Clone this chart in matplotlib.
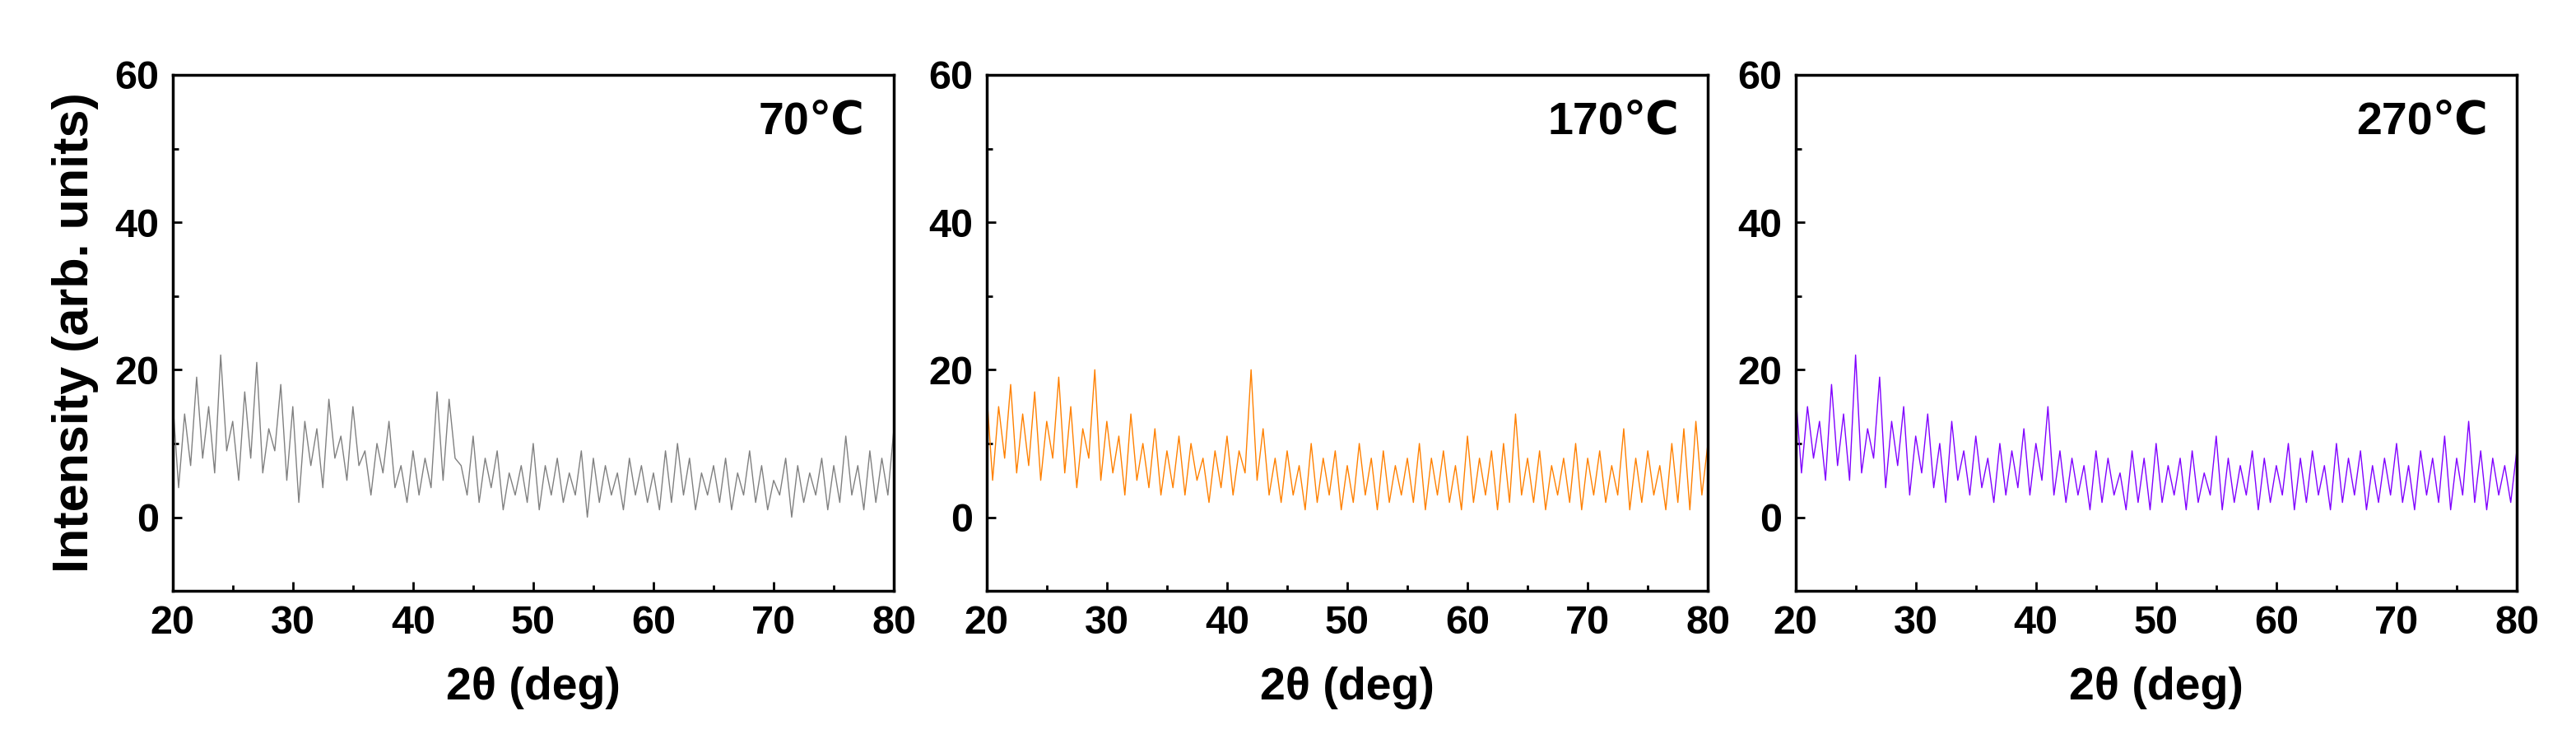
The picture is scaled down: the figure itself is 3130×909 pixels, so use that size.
import matplotlib.pyplot as plt

plt.rcParams['font.family'] = ['Liberation Sans', 'DejaVu Sans']
plt.rcParams['font.weight'] = 'bold'

# 2theta grid, 0.5 deg steps from 20 to 80
two_theta = [20 + 0.5 * i for i in range(121)]

# intensities (arb. units)
i_70 = [16, 4, 14, 7, 19, 8, 15, 6, 22, 9, 13, 5, 17, 8, 21, 6, 12, 9, 18, 5,
        15, 2, 13, 7, 12, 4, 16, 8, 11, 5, 15, 7, 9, 3, 10, 6, 13, 4, 7, 2,
        9, 3, 8, 4, 17, 5, 16, 8, 7, 3, 11, 2, 8, 4, 9, 1, 6, 3, 7, 2,
        10, 1, 7, 3, 8, 2, 6, 3, 9, 0, 8, 2, 7, 3, 6, 1, 8, 3, 7, 2,
        6, 1, 9, 2, 10, 3, 8, 1, 6, 3, 7, 2, 8, 1, 6, 3, 9, 2, 7, 1,
        5, 3, 8, 0, 7, 2, 6, 3, 8, 1, 7, 2, 11, 3, 7, 1, 9, 2, 8, 3, 12]
i_170 = [17, 5, 15, 8, 18, 6, 14, 7, 17, 5, 13, 8, 19, 6, 15, 4, 12, 8, 20, 5,
         13, 6, 11, 3, 14, 5, 10, 4, 12, 3, 9, 4, 11, 3, 10, 5, 8, 2, 9, 4,
         11, 3, 9, 6, 20, 5, 12, 3, 8, 2, 9, 3, 7, 1, 10, 2, 8, 3, 9, 1,
         7, 2, 10, 3, 8, 1, 9, 2, 7, 3, 8, 2, 10, 1, 8, 3, 9, 2, 7, 1,
         11, 2, 8, 3, 9, 1, 10, 2, 14, 3, 8, 2, 9, 1, 7, 3, 8, 2, 10, 1,
         8, 3, 9, 2, 7, 3, 12, 1, 8, 2, 9, 3, 7, 1, 10, 2, 12, 1, 13, 3, 10]
i_270 = [17, 6, 15, 8, 13, 5, 18, 7, 14, 5, 22, 6, 12, 8, 19, 4, 13, 7, 15, 3,
         11, 6, 14, 4, 10, 2, 13, 5, 9, 3, 11, 4, 8, 2, 10, 3, 9, 4, 12, 3,
         10, 5, 15, 3, 9, 2, 8, 3, 7, 1, 9, 2, 8, 3, 6, 1, 9, 2, 8, 1,
         10, 2, 7, 3, 8, 1, 9, 2, 6, 3, 11, 1, 8, 2, 7, 3, 9, 1, 8, 2,
         7, 3, 10, 1, 8, 2, 9, 3, 7, 1, 10, 2, 8, 3, 9, 1, 7, 2, 8, 3,
         10, 2, 7, 1, 9, 3, 8, 2, 11, 1, 8, 3, 13, 2, 9, 1, 8, 3, 7, 2, 9]

series = [(i_70, '#808080', '70\u2103'),
          (i_170, '#ff8000', '170\u2103'),
          (i_270, '#8000ff', '270\u2103')]

fig = plt.figure(figsize=(31.3, 9.09), dpi=100)
lefts = [0.067, 0.383, 0.697]

for left, (vals, color, label) in zip(lefts, series):
    ax = fig.add_axes([left, 0.21, 0.280, 0.69])
    ax.plot(two_theta, vals, color=color, lw=1.0)
    ax.set_xlim(20, 80)
    ax.set_ylim(-10, 60)
    ax.set_xticks(range(20, 81, 10))
    ax.set_xticks(range(25, 80, 10), minor=True)
    ax.set_yticks([0, 20, 40, 60])
    ax.set_yticks([10, 30, 50], minor=True)
    ax.tick_params(direction='in', labelsize=35, width=2, length=8, pad=12)
    ax.tick_params(which='minor', direction='in', width=2, length=5)
    for s in ax.spines.values():
        s.set_linewidth(2.5)
    ax.set_xlabel('2\u03b8 (deg)', fontsize=40, fontweight='bold', labelpad=22)
    ax.text(0.96, 0.95, label, transform=ax.transAxes, ha='right', va='top',
            fontsize=40, fontweight='bold')
    if left == lefts[0]:
        ax.set_ylabel('Intensity (arb. units)', fontsize=44, fontweight='bold', labelpad=14)

fig.savefig('out.png', dpi=100)
